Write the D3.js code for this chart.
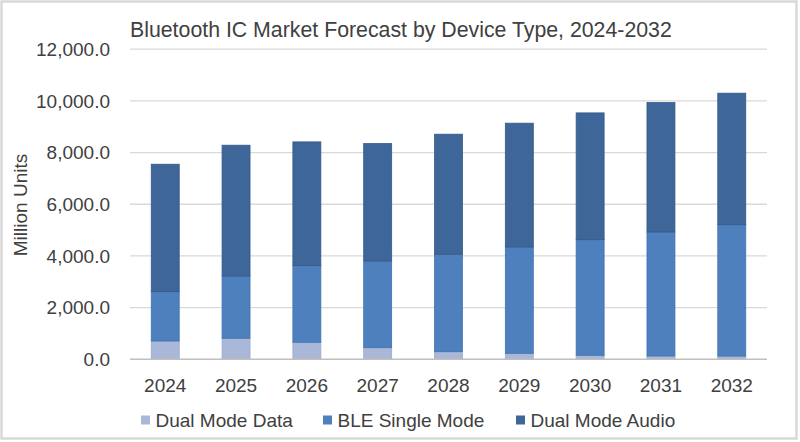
<!DOCTYPE html>
<html><head><meta charset="utf-8">
<script src="https://cdn.jsdelivr.net/npm/d3@7"></script>
<style>body{margin:0;background:#fff}svg{display:block}</style>
</head><body>
<svg id="c" width="800" height="442"></svg>
<script>
const years = ["2024","2025","2026","2027","2028","2029","2030","2031","2032"];
const dualModeData = [708, 813, 658, 449, 294, 232, 155, 128, 125];
const bleSingleMode = [1909, 2412, 2966, 3357, 3771, 4116, 4475, 4800, 5085];
const dualModeAudio = [4932, 5060, 4789, 4541, 4646, 4789, 4905, 5006, 5088];
const seriesNames = ["Dual Mode Data","BLE Single Mode","Dual Mode Audio"];
const yTicks = [0, 2000, 4000, 6000, 8000, 10000, 12000];
const colors = ["#a9b8d8","#4e80bd","#3e6699"];
const strokes = ["#9aaacc","#3f72b0","#34598a"];

const svg = d3.select("#c");
const font = "'Liberation Sans', Arial, sans-serif";
const fs = 19;
svg.append("rect").attr("x",1.5).attr("y",1.5).attr("width",795).attr("height",437)
  .attr("fill","#fff").attr("stroke","#d9d9d9").attr("stroke-width",2.5);

const m = {l:130, r:767, t:49.2, b:359.3};
const x = d3.scaleBand().domain(years).range([m.l, m.r]).paddingInner(0.605).paddingOuter(0.3);
const y = d3.scaleLinear().domain([0,12000]).range([m.b, m.t]);

const table = years.map((yr,i)=>({year:yr, "Dual Mode Data":dualModeData[i], "BLE Single Mode":bleSingleMode[i], "Dual Mode Audio":dualModeAudio[i]}));
const stacked = d3.stack().keys(seriesNames)(table);

// gridlines
svg.append("g").selectAll("line").data(yTicks.filter(d=>d>0)).join("line")
  .attr("x1",m.l).attr("x2",m.r).attr("y1",d=>y(d)).attr("y2",d=>y(d))
  .attr("stroke","#d9d9d9").attr("stroke-width",1.3);

// y tick labels
svg.append("g").selectAll("text").data(yTicks).join("text")
  .attr("x",110).attr("y",d=>y(d)).attr("dy","0.36em").attr("text-anchor","end")
  .attr("font-family",font).attr("font-size",fs).attr("fill","#404040")
  .text(d=>d3.format(",.1f")(d));

// bars
svg.append("g").selectAll("g").data(stacked).join("g")
  .attr("fill",(d,i)=>colors[i]).attr("stroke",(d,i)=>strokes[i]).attr("stroke-width",0.8)
  .selectAll("rect").data(d=>d).join("rect")
  .attr("x",d=>x(d.data.year)).attr("width",x.bandwidth())
  .attr("y",d=>y(d[1])).attr("height",d=>y(d[0])-y(d[1]));

// baseline
svg.append("line").attr("x1",m.l).attr("x2",m.r).attr("y1",m.b).attr("y2",m.b)
  .attr("stroke","#bfbfbf").attr("stroke-width",1.5);

// x labels
svg.append("g").selectAll("text").data(years).join("text")
  .attr("x",d=>x(d)+x.bandwidth()/2).attr("y",391.5).attr("text-anchor","middle")
  .attr("font-family",font).attr("font-size",fs).attr("fill","#404040").text(d=>d);

// y title
svg.append("text").attr("transform","translate(27,205) rotate(-90)").attr("text-anchor","middle")
  .attr("font-family",font).attr("font-size",fs).attr("fill","#404040").text("Million Units");

// title
svg.append("text").attr("x",130).attr("y",36.7).attr("font-family",font).attr("font-size",21.3)
  .attr("fill","#404040").text("Bluetooth IC Market Forecast by Device Type, 2024-2032");

// legend
const legX = [141, 323, 516];
const lg = svg.append("g").selectAll("g").data(seriesNames).join("g")
  .attr("transform",(d,i)=>`translate(${legX[i]},0)`);
lg.append("rect").attr("x",0).attr("y",415.5).attr("width",9).attr("height",9).attr("fill",(d,i)=>colors[i]);
lg.append("text").attr("x",14.5).attr("y",426.5).attr("font-family",font)
  .attr("font-size",fs).attr("fill","#404040").text(d=>d);
</script>
</body></html>
